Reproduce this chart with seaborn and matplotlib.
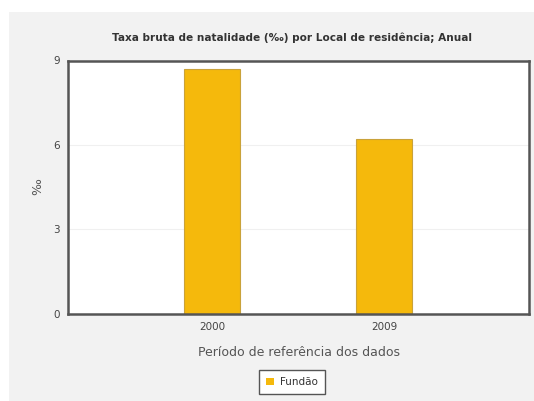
import seaborn as sns
import matplotlib.pyplot as plt
import pandas as pd
from matplotlib.patches import Rectangle

anos = ["2000", "2009"]
taxa = [8.7, 6.2]
local = ["Fundão", "Fundão"]
yticks = [0, 3, 6, 9]

df = pd.DataFrame({"ano": anos, "taxa": taxa, "local": local})

sns.set_style("white")
plt.rcParams["font.family"] = ["DejaVu Sans"]

fig = plt.figure(figsize=(5.34, 4.01), dpi=100)
fig.patch.set_facecolor("white")
fig.add_artist(Rectangle((9 / 534, 0), 1, 389 / 401, transform=fig.transFigure,
                         facecolor="#f2f2f2", edgecolor="none", zorder=-1))

ax = fig.add_axes([68 / 534, 87.5 / 401, 461 / 534, 253 / 401])
sns.barplot(data=df, x="ano", y="taxa", hue="local", palette=["#f5b90c"],
            saturation=1, width=0.326, edgecolor="#c9a23a", linewidth=0.8,
            legend=False, ax=ax)

ax.set_xlim(-0.837, 1.843)
ax.set_ylim(0, 9)
ax.set_yticks(yticks)
ax.yaxis.grid(True, color="#f0f0f0", linewidth=0.8)
ax.set_axisbelow(True)
for s in ax.spines.values():
    s.set_color("#555555")
    s.set_linewidth(1.8)
ax.tick_params(length=0, labelsize=7.5, labelcolor="#444444", pad=6)

ax.set_xlabel("Período de referência dos dados", fontsize=9, color="#555555",
              labelpad=10)
ax.set_ylabel("‰", fontsize=9, color="#555555", labelpad=6)
fig.text(292 / 534, 1 - 38 / 401, "Taxa bruta de natalidade (‰) por Local de residência; Anual",
         ha="center", va="center", fontsize=7.6, fontweight="bold", color="#333333")

h = [Rectangle((0, 0), 1, 1, facecolor="#f5b90c", edgecolor="none")]
leg = fig.legend(h, ["Fundão"], loc="center", bbox_to_anchor=(292 / 534, 1 - 382 / 401),
                 fontsize=7.5, handlelength=0.7, handleheight=0.7, handletextpad=0.6,
                 borderpad=0.7, fancybox=False, framealpha=1)
leg.get_frame().set_edgecolor("#555555")
leg.get_frame().set_linewidth(1.0)
for t in leg.get_texts():
    t.set_color("#333333")

fig.savefig("out.png", dpi=100)
